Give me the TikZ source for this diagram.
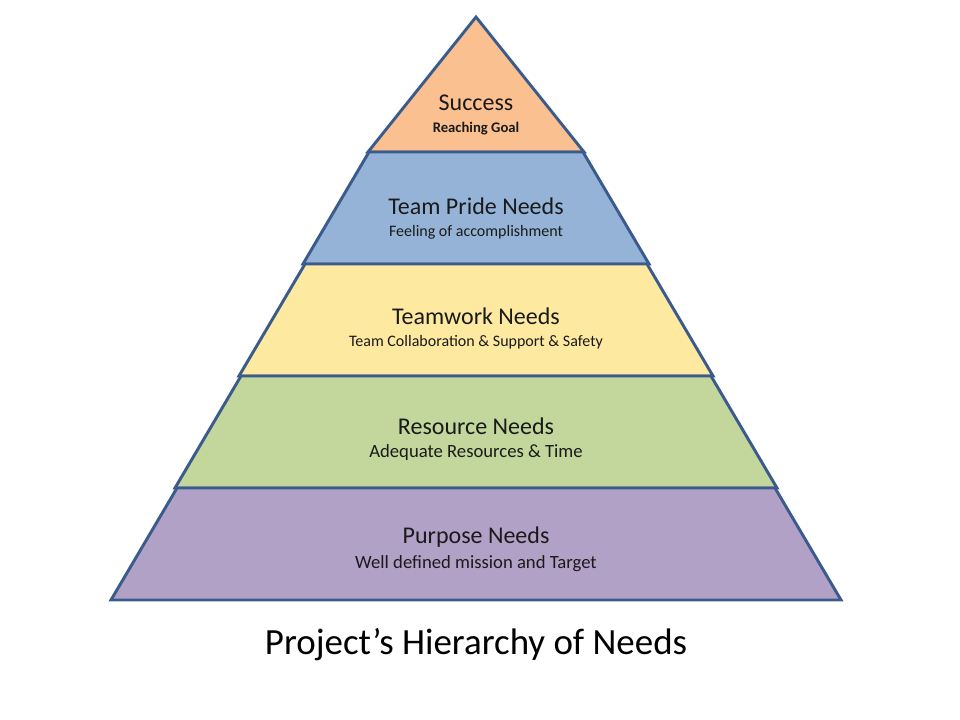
\documentclass[tikz,border=0pt]{standalone}
\usepackage{fontspec}
\setmainfont{Carlito}
\usepackage{tikz}
\usetikzlibrary{calc}

\definecolor{edgeblue}{HTML}{3B5B8C}
\definecolor{lvlorange}{HTML}{FAC090}
\definecolor{lvlblue}{HTML}{95B3D7}
\definecolor{lvlyellow}{HTML}{FDE9A0}
\definecolor{lvlgreen}{HTML}{C3D69B}
\definecolor{lvlpurple}{HTML}{B2A1C7}
\definecolor{txtdark}{HTML}{1A1A1A}

\begin{document}
\begin{tikzpicture}[x=0.75pt,y=-0.75pt,
	layer/.style={draw=edgeblue,line width=2.2pt,line join=miter},
	mainlbl/.style={text=txtdark,font=\fontsize{18}{20}\selectfont,inner sep=0pt},
	sublbl/.style={text=txtdark,inner sep=0pt}]
		\def \mid {476}
		\def \hgt {112}
		\def \step {64}
		
		\useasboundingbox (0,0) rectangle (960,720);
		
		%top triangle
		\draw[layer,fill=lvlorange] (\mid,17) -- (584,152) -- (368,152) -- cycle;
		
		%trapezoid layers
		\foreach \c [count=\i] in {lvlblue,lvlyellow,lvlgreen,lvlpurple}{
			\pgfmathsetmacro{\ytop}{152+(\i-1)*\hgt}
			\pgfmathsetmacro{\ybot}{\ytop+\hgt}
			\pgfmathsetmacro{\wtop}{107+(\i-1)*\step}
			\pgfmathsetmacro{\wbot}{\wtop+\step+2}
			\draw[layer,fill=\c] (\mid-\wtop,\ytop) -- (\mid+\wtop,\ytop) -- (\mid+\wbot,\ybot) -- (\mid-\wbot,\ybot) -- cycle;
		}
		
		%labels
		\node[mainlbl] (success) at (\mid,103) {Success};
		\node[sublbl,font=\bfseries\fontsize{11}{13}\selectfont] (goal) at (\mid,129) {Reaching Goal};
		
		\node[mainlbl] (pride) at (\mid,206) {Team Pride Needs};
		\node[sublbl,font=\fontsize{12}{14}\selectfont] (accomp) at (\mid,232) {Feeling of accomplishment};
		
		\node[mainlbl] (teamwork) at (\mid,316) {Teamwork Needs};
		\node[sublbl,font=\fontsize{12}{14}\selectfont] (collab) at (\mid,342) {Team Collaboration \& Support \& Safety};
		
		\node[mainlbl] (resource) at (\mid,426) {Resource Needs};
		\node[sublbl,font=\fontsize{14}{16}\selectfont] (adequate) at (\mid,453) {Adequate Resources \& Time};
		
		\node[mainlbl] (purpose) at (\mid,537) {Purpose Needs};
		\node[sublbl,font=\fontsize{14}{16}\selectfont] (mission) at (\mid,564) {Well defined mission and Target};
		
		%title
		\node[inner sep=0pt,font=\fontsize{27.7}{30}\selectfont] (title) at (\mid,645) {Project’s Hierarchy of Needs};
\end{tikzpicture}
\end{document}
